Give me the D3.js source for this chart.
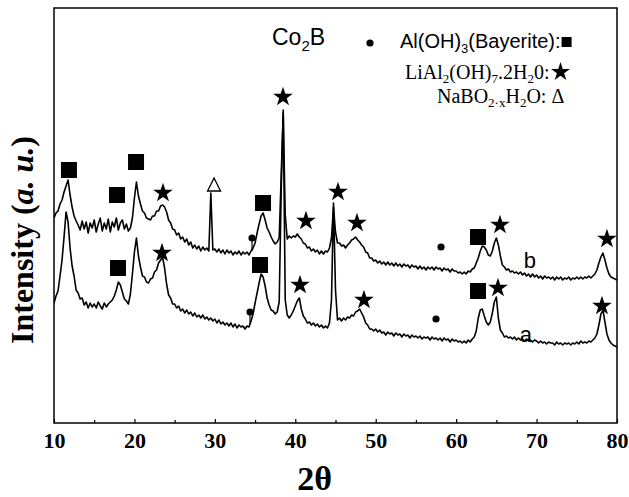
<!DOCTYPE html>
<html><head><meta charset="utf-8">
<script src="https://cdn.jsdelivr.net/npm/d3@7"></script>
<style>body{margin:0;background:#fff}svg{display:block}</style>
</head><body><svg id="c" width="629" height="497"></svg>
<script>
// 2θ sampling: first angle and step (degrees)
const angleStart = 10, angleStep = 0.25;

// sample a (lower pattern), intensity in arbitrary units, one value per 0.25°
const intensityA = [
 120,127,132,147,163,186,211,201,175,157,147,133,130,124,125,118,121,115,120,116,
 119,115,121,117,114,120,116,119,121,123,127,133,141,138,131,124,122,119,129,149,
 171,185,167,156,147,146,141,140,144,145,151,153,160,163,166,155,139,128,125,119,
 119,115,117,112,114,110,113,109,111,107,110,106,108,105,108,104,106,103,105,102,
 104,100,103,99,101,98,100,97,100,96,99,95,98,96,97,94,97,96,102,109,
 120,130,140,149,146,137,125,118,113,112,109,111,121,233,313,123,108,105,108,112,
 117,122,125,114,107,104,100,101,98,100,97,99,96,98,95,97,95,100,123,220,
 133,103,105,102,105,103,106,105,108,107,111,112,114,110,106,100,98,94,94,92,
 94,91,93,90,91,88,91,89,90,87,90,88,89,86,89,87,88,85,88,86,
 87,85,87,84,86,85,86,83,86,84,85,83,85,82,85,83,84,81,84,82,
 83,81,82,80,82,80,83,81,84,86,92,105,113,114,107,101,98,101,110,121,
 126,105,93,90,86,87,85,86,84,86,83,85,83,84,82,84,82,83,81,83,
 82,80,82,80,81,79,81,80,80,78,81,79,80,78,80,79,80,78,80,79,
 81,79,82,80,81,80,82,81,83,85,89,98,109,113,101,89,83,80,78,77,
 76
];

// sample b (upper pattern)
const intensityB = [
 205,210,212,219,223,231,237,243,228,216,207,202,198,193,202,194,201,190,200,195,
 203,191,199,205,192,200,194,204,191,201,196,205,193,200,203,194,199,192,195,205,
 225,241,227,219,212,210,205,204,203,207,207,212,212,217,218,216,211,203,200,194,
 193,188,190,184,186,181,184,178,181,175,178,174,177,172,176,173,175,172,230,173,
 174,171,174,170,173,169,173,170,172,168,171,169,172,168,171,169,171,168,172,175,
 180,190,199,207,210,203,195,191,186,182,179,181,185,248,310,208,184,187,185,187,
 186,189,186,184,180,179,175,176,172,174,171,173,169,172,169,172,171,175,185,216,
 191,180,180,177,178,175,178,180,183,184,186,183,181,178,176,171,170,165,165,162,
 163,160,162,159,161,158,161,158,160,157,160,157,159,156,159,157,158,155,158,156,
 157,154,157,154,156,153,156,154,156,153,156,154,155,152,155,153,154,151,154,152,
 152,150,151,149,151,149,152,151,154,155,160,165,172,177,176,173,168,167,172,180,
 185,178,167,158,156,153,154,151,152,150,151,149,151,148,150,147,149,146,149,146,
 148,145,147,144,147,145,146,144,146,143,146,144,146,143,145,144,146,143,145,144,
 146,144,146,144,146,145,147,145,147,149,153,160,166,170,163,155,149,146,145,144,
 143
];

const majorTicks = [10, 20, 30, 40, 50, 60, 70, 80];
const minorTicks = [15, 25, 35, 45, 55, 65, 75];

// phase markers [2θ, intensity]
const bayeriteMarks = [[11.86,253],[17.83,228],[20.2,261],[35.99,220],[62.72,186],[17.96,155],[35.61,158],[62.72,132]];
const lialMarks = [[23.55,230],[38.47,326],[41.33,202],[45.31,231],[47.67,200],[65.45,198],[78.75,184],[23.43,170],[40.59,138],[48.54,123],[65.2,135],[78.13,117]];
const naboMarks = [[29.9,238]];
const co2bMarks = [[34.62,185],[34.37,111],[58.12,176],[57.5,104]];
const co2bStems = [[34.62,185,172],[34.37,111,99]];
const curveLabels = [{text:"b", angle:68.4, value:155},{text:"a", angle:67.9, value:81}];

const svg = d3.select("#c");
const L = 54, R = 617, T = 8, B = 423;
const x = d3.scaleLinear().domain([10, 80]).range([L, R]);
const y = d3.scaleLinear().domain([0, 415]).range([B, T]);

const serif = "'Times New Roman','Liberation Serif',Times,serif";
const sans = "Arial,'Liberation Sans',Helvetica,sans-serif";

svg.append("clipPath").attr("id","clip").append("rect")
  .attr("x", L).attr("y", T).attr("width", R-L).attr("height", B-T);

const line = d3.line()
  .x((d,i) => x(angleStart + i*angleStep))
  .y(d => y(d));

const g = svg.append("g").attr("clip-path","url(#clip)");
[intensityB, intensityA].forEach(s => {
  g.append("path").datum(s).attr("d", line)
    .attr("fill","none").attr("stroke","#000").attr("stroke-width",1.6)
    .attr("stroke-linejoin","round");
});

// markers
svg.append("g").selectAll("path").data(bayeriteMarks).join("path")
  .attr("d", d3.symbol(d3.symbolSquare, 256))
  .attr("transform", d => `translate(${x(d[0])},${y(d[1])})`).attr("fill","#000");
svg.append("g").selectAll("path").data(lialMarks).join("path")
  .attr("d", d3.symbol(d3.symbolStar, 120))
  .attr("transform", d => `translate(${x(d[0])},${y(d[1])})`).attr("fill","#000");
svg.append("g").selectAll("path").data(naboMarks).join("path")
  .attr("d", "M0,-7L6.5,6L-6.5,6Z")
  .attr("transform", d => `translate(${x(d[0])},${y(d[1])})`)
  .attr("fill","#fff").attr("stroke","#000").attr("stroke-width",1.3);
svg.append("g").selectAll("line").data(co2bStems).join("line")
  .attr("x1", d => x(d[0])).attr("x2", d => x(d[0]))
  .attr("y1", d => y(d[1])).attr("y2", d => y(d[2]))
  .attr("stroke","#000").attr("stroke-width",1.2);
svg.append("g").selectAll("circle").data(co2bMarks).join("circle")
  .attr("cx", d => x(d[0])).attr("cy", d => y(d[1])).attr("r", 3.6).attr("fill","#000");

svg.append("g").selectAll("text").data(curveLabels).join("text")
  .attr("x", d => x(d.angle)).attr("y", d => y(d.value))
  .attr("font-family", sans).attr("font-size", 22).text(d => d.text);

// frame
svg.append("rect").attr("x", L).attr("y", T).attr("width", R-L).attr("height", B-T)
  .attr("fill","none").attr("stroke","#000").attr("stroke-width",1.5);

// bottom axis ticks (inward)
const ax = svg.append("g").attr("transform", `translate(0,${B})`)
  .call(d3.axisBottom(x).tickValues(majorTicks).tickSize(-4).tickPadding(9).tickFormat(d3.format("d")));
ax.select(".domain").remove();
ax.selectAll("line").attr("stroke-width",1.2);
ax.selectAll("text").attr("font-family", serif).attr("font-weight","bold").attr("font-size",22).attr("fill","#000");
const axm = svg.append("g").attr("transform", `translate(0,${B})`)
  .call(d3.axisBottom(x).tickValues(minorTicks).tickSize(-3).tickFormat(""));
axm.select(".domain").remove();
axm.selectAll("line").attr("stroke-width",1.2);

// axis titles
svg.append("text").attr("x", 314.5).attr("y", 490).attr("text-anchor","middle")
  .attr("font-family", serif).attr("font-weight","bold").attr("font-size",34).text("2θ");
const yl = svg.append("text").attr("transform","translate(33,240) rotate(-90)").attr("text-anchor","middle")
  .attr("font-family", serif).attr("font-weight","bold").attr("font-size",32);
yl.append("tspan").text("Intensity (");
yl.append("tspan").attr("font-style","italic").text("a. u.");
yl.append("tspan").text(")");

// legend / annotations
const co = svg.append("text").attr("x",272).attr("y",45).attr("font-family",sans).attr("font-size",23);
co.append("tspan").text("Co");
co.append("tspan").attr("font-size",15).attr("dy",6).text("2");
co.append("tspan").attr("dy",-6).text("B");
svg.append("circle").attr("cx",370).attr("cy",43).attr("r",3.6).attr("fill","#000");

const t1 = svg.append("text").attr("x",400).attr("y",48).attr("font-family",sans).attr("font-size",20);
t1.append("tspan").text("Al(OH)");
t1.append("tspan").attr("font-size",13).attr("dy",5).text("3");
t1.append("tspan").attr("dy",-5).text("(Bayerite):");
const w1 = t1.node().getComputedTextLength();
svg.append("rect").attr("x",400+w1+1).attr("y",37).attr("width",10).attr("height",10).attr("fill","#000");

const t2 = svg.append("text").attr("x",405).attr("y",79).attr("font-family",serif).attr("font-size",20);
t2.append("tspan").text("LiAl");
t2.append("tspan").attr("font-size",13).attr("dy",4).text("2");
t2.append("tspan").attr("dy",-4).text("(OH)");
t2.append("tspan").attr("font-size",13).attr("dy",4).text("7");
t2.append("tspan").attr("dy",-4).text(".2H");
t2.append("tspan").attr("font-size",13).attr("dy",4).text("2");
t2.append("tspan").attr("dy",-4).text("0:");
const w2 = t2.node().getComputedTextLength();
svg.append("path").attr("d", d3.symbol(d3.symbolStar, 110)())
  .attr("transform", `translate(${405+w2+11},${72})`).attr("fill","#000");

const t3 = svg.append("text").attr("x",437).attr("y",103).attr("font-family",serif).attr("font-size",20);
t3.append("tspan").text("NaBO");
t3.append("tspan").attr("font-size",13).attr("dy",4).text("2·x");
t3.append("tspan").attr("dy",-4).text("H");
t3.append("tspan").attr("font-size",13).attr("dy",4).text("2");
t3.append("tspan").attr("dy",-4).text("O:  Δ");
</script></body></html>
